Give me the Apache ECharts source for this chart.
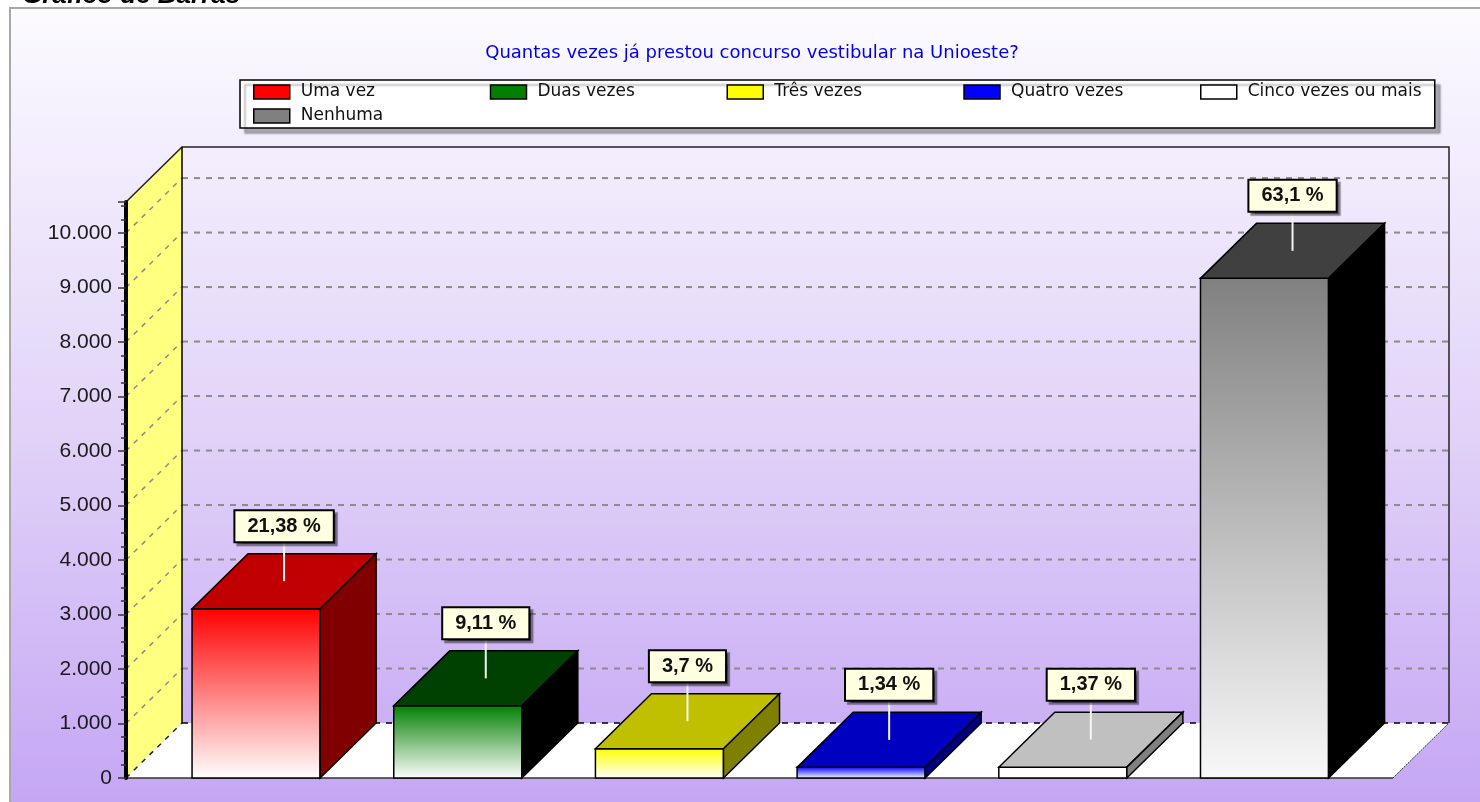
<!DOCTYPE html>
<html><head><meta charset="utf-8">
<script src="https://cdn.jsdelivr.net/npm/echarts@6/dist/echarts.min.js"></script>
<style>html,body{margin:0;padding:0;background:#fff}#c{width:1480px;height:802px}</style>
</head><body><div id="c"></div>
<script>
// ---- data ----
const categories = ['Uma vez', 'Duas vezes', 'Três vezes', 'Quatro vezes', 'Cinco vezes ou mais', 'Nenhuma'];
const counts = [3107, 1324, 538, 195, 199, 9169];
const percentLabels = ['21,38 %', '9,11 %', '3,7 %', '1,34 %', '1,37 %', '63,1 %'];
const yTicks = [0, 1000, 2000, 3000, 4000, 5000, 6000, 7000, 8000, 9000, 10000];
const chartTitle = 'Quantas vezes já prestou concurso vestibular na Unioeste?';
const panelTitle = 'Gráfico de Barras';

// ---- styling ----
const frontColors = ['#ff0000', '#008000', '#ffff00', '#0000ff', '#ffffff', '#808080'];
const frontBottom = ['#ffffff', '#ffffff', '#ffffff', '#ffffff', '#ffffff', '#f8f8f8'];
const topColors = ['#c00000', '#004000', '#c0c000', '#0000c0', '#c0c0c0', '#404040'];
const sideColors = ['#800000', '#000000', '#808000', '#000080', '#808080', '#000000'];
const Y_MAX = 10570;
const X_MIN = -0.645, X_MAX = 5.637;
const DEPTH = [56, -55];
const BAR_W = 0.635;

function fmt(v) { return String(v).replace(/\B(?=(\d{3})+(?!\d))/g, '.'); }

function renderWalls(params, api) {
  const dx = DEPTH[0], dy = DEPTH[1];
  const back = p => [p[0] + dx, p[1] + dy];
  const p0 = api.coord([X_MIN, 0]);
  const p1 = api.coord([X_MAX, 0]);
  const pt = api.coord([X_MIN, Y_MAX]);
  const ptr = api.coord([X_MAX, Y_MAX]);
  const ch = [];
  ch.push({ type: 'polygon', shape: { points: [p0, pt, back(pt), back(p0)] }, style: { fill: '#ffff80' } });
  ch.push({ type: 'polygon', shape: { points: [p0, p1, back(p1), back(p0)] }, style: { fill: '#ffffff' } });
  yTicks.forEach(v => {
    const f = api.coord([X_MIN, v]);
    const fr = api.coord([X_MAX, v]);
    const b = back(f), br = back(fr);
    ch.push({ type: 'line', shape: { x1: b[0], y1: b[1], x2: br[0], y2: br[1] },
      style: { stroke: v === 0 ? '#000' : '#8c8c8c', lineWidth: v === 0 ? 1.5 : 2, lineDash: [6, 6] } });
    ch.push({ type: 'line', shape: { x1: f[0], y1: f[1], x2: b[0], y2: b[1] },
      style: { stroke: v === 0 ? '#222' : '#8c8c8c', lineWidth: 1.5, lineDash: [5, 6] } });
  });
  // frame lines
  ch.push({ type: 'polyline', shape: { points: [pt, back(pt), back(ptr), back(p1)] }, style: { stroke: '#222', lineWidth: 1.5, fill: null } });
  ch.push({ type: 'line', shape: { x1: back(pt)[0], y1: back(pt)[1], x2: back(p0)[0], y2: back(p0)[1] }, style: { stroke: '#000', lineWidth: 1.5 } });
  ch.push({ type: 'line', shape: { x1: p0[0], y1: p0[1], x2: p1[0], y2: p1[1] }, style: { stroke: '#333', lineWidth: 1.5 } });
  ch.push({ type: 'line', shape: { x1: p1[0], y1: p1[1], x2: back(p1)[0], y2: back(p1)[1] }, style: { stroke: '#333', lineWidth: 1, lineDash: [2, 1] } });
  return { type: 'group', children: ch };
}

function renderBar(params, api) {
  const idx = api.value(0), val = api.value(1);
  const dx = DEPTH[0], dy = DEPTH[1];
  const c = api.coord([idx, 0]), t = api.coord([idx, val]);
  const w = api.size([BAR_W, 0])[0];
  const xl = c[0] - w / 2, xr = c[0] + w / 2, yb = c[1], yt = t[1];
  const edge = { stroke: '#000', lineWidth: 1.5, lineJoin: 'miter' };
  const tc = [(xl + xr) / 2 + dx / 2, yt + dy / 2];
  return { type: 'group', children: [
    { type: 'rect', shape: { x: xl, y: yt, width: w, height: yb - yt },
      style: Object.assign({ fill: { type: 'linear', x: 0, y: 0, x2: 0, y2: 1,
        colorStops: [{ offset: 0, color: frontColors[idx] }, { offset: 1, color: frontBottom[idx] }] } }, edge) },
    { type: 'polygon', shape: { points: [[xl, yt], [xr, yt], [xr + dx, yt + dy], [xl + dx, yt + dy]] },
      style: Object.assign({ fill: topColors[idx] }, edge) },
    { type: 'polygon', shape: { points: [[xr, yt], [xr + dx, yt + dy], [xr + dx, yb + dy], [xr, yb]] },
      style: Object.assign({ fill: sideColors[idx] }, edge) },
    { type: 'line', shape: { x1: tc[0], y1: tc[1], x2: tc[0], y2: tc[1] - 40 },
      style: { stroke: '#f4f4f4', lineWidth: 2 } },
    { type: 'text', x: tc[0], y: tc[1] - 55,
      style: { text: percentLabels[idx], align: 'center', verticalAlign: 'middle',
        font: 'bold 20px "Liberation Sans", Arial, sans-serif', fill: '#111', lineHeight: 22,
        backgroundColor: '#ffffe1', borderColor: '#000', borderWidth: 2, padding: [4, 12, 4, 12],
        shadowColor: 'rgba(0,0,0,0.45)', shadowOffsetX: 3, shadowOffsetY: 3, shadowBlur: 1 } }
  ] };
}

const chart = echarts.init(document.getElementById('c'), null, { renderer: 'canvas' });
const series = [{
  name: '__walls', type: 'custom', renderItem: renderWalls, data: [[0, 0]], z: 1, clip: false, silent: true
}].concat(categories.map((name, i) => ({
  name, type: 'custom', renderItem: renderBar, itemStyle: { color: frontColors[i] },
  data: [[i, counts[i]]], z: 3, clip: false
})));

chart.setOption({
  animation: false,
  title: {
    text: chartTitle, left: 747, top: 39, textAlign: 'center',
    textStyle: { fontFamily: 'DejaVu Sans', fontSize: 18, fontWeight: 'normal', color: '#0000e6' }
  },
  legend: {
    data: categories, left: 240, top: 80, width: 1180, padding: [3, 4, 3, 13],
    itemWidth: 36, itemHeight: 14, itemGap: 6, icon: 'rect', selectedMode: false,
    itemStyle: { borderColor: '#000', borderWidth: 1.5 },
    textStyle: { fontFamily: 'DejaVu Sans', fontSize: 17, color: '#111', width: 183, padding: [0, 0, 0, 6], lineHeight: 18 },
    backgroundColor: '#fff', borderColor: '#000', borderWidth: 1.5,
    shadowColor: 'rgba(0,0,0,0.3)', shadowBlur: 2, shadowOffsetX: 5, shadowOffsetY: 5
  },
  grid: { left: 126, right: 87, top: 202, bottom: 24, outerBoundsMode: 'none' },
  xAxis: { type: 'value', min: X_MIN, max: X_MAX, show: false },
  yAxis: {
    type: 'value', min: 0, max: Y_MAX, interval: 1000, z: 10, zlevel: 0,
    axisLine: { show: true, onZero: false, lineStyle: { color: '#000', width: 4 } },
    axisTick: { show: true, length: 8, lineStyle: { color: '#333', width: 1.5 } },
    minorTick: { show: true, splitNumber: 4, length: 5, lineStyle: { color: '#333', width: 1.5 } },
    splitLine: { show: false },
    axisLabel: { showMaxLabel: false, margin: 14, fontFamily: 'Liberation Sans', fontSize: 21, color: '#1a1a1a', formatter: fmt }
  },
  graphic: [
    { type: 'rect', z: -100, silent: true, shape: { x: 10, y: 8, width: 1500, height: 820 },
      style: { stroke: '#a8a8a8', lineWidth: 2,
        fill: { type: 'linear', x: 0, y: 0, x2: 0, y2: 1, colorStops: [
          { offset: 0, color: '#fcfbff' }, { offset: 0.5, color: '#e2d4f8' }, { offset: 1, color: '#c3a3f4' }] } } },
    { type: 'text', z: -90, x: 22, y: -4, silent: true,
      style: { text: panelTitle, font: 'italic bold 26px "Liberation Sans", Arial, sans-serif', fill: '#000', verticalAlign: 'middle' } }
  ],
  series
});
</script></body></html>
